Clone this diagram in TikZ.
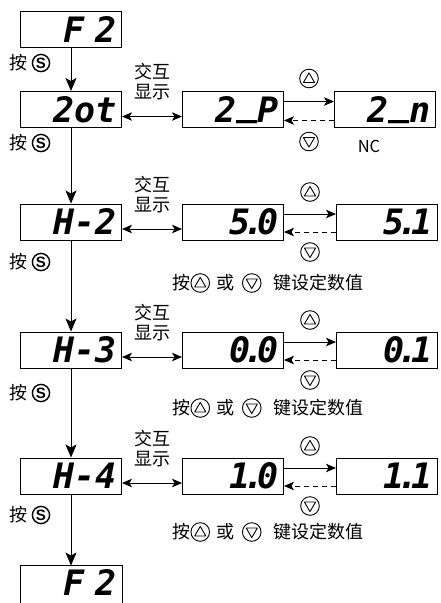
\documentclass[tikz,border=0pt]{standalone}
\usepackage{fontspec}
\usetikzlibrary{arrows.meta,calc,positioning}
\newfontfamily\cjk{Noto Sans CJK SC}
\newfontfamily\segfont{DejaVu Sans Mono Bold Oblique}
\newfontfamily\keyfont{Liberation Sans}

% round keys used inside the labels
\newcommand{\keyup}{\tikz[baseline=-6.5pt]{%
  \draw[line width=0.9pt] (0pt,0pt) circle (9.3pt);
  \draw[line width=0.9pt,line join=round] (0pt,5.6pt) -- (-5.6pt,-4pt) -- (5.6pt,-4pt) -- cycle;}}
\newcommand{\keydown}{\tikz[baseline=-6.5pt]{%
  \draw[line width=0.9pt] (0pt,0pt) circle (9.3pt);
  \draw[line width=0.9pt,line join=round] (0pt,-5.6pt) -- (-5.6pt,4pt) -- (5.6pt,4pt) -- cycle;}}
\newcommand{\keyS}{\tikz[baseline=-6.5pt]{%
  \draw[line width=1.4pt] (0pt,0pt) circle (8.6pt);
  \path (0pt,0pt) node[inner sep=0pt,font=\keyfont\bfseries\fontsize{15}{15}\selectfont] {S};}}
% decimal point between two digit cells
\newcommand{\dpt}{\kern-0.2em.\kern-0.2em}

\begin{document}
\begin{tikzpicture}[
    x=1pt, y=-1pt,
    >={Stealth[length=10pt,width=8.5pt,inset=2.5pt]},
    disp/.style = {draw, line width=1pt, minimum width=101pt, minimum height=36pt,
                   inner xsep=0pt, inner ysep=0pt, text width=92pt, align=right,
                   text height=25pt, text depth=0pt,
                   font=\segfont\fontsize{35}{35}\selectfont},
    flow/.style = {line width=0.8pt, -{Stealth[length=13pt,width=11pt,inset=3pt]}},
    xchg/.style = {line width=0.8pt, <->},
    inc/.style  = {line width=0.8pt, ->},
    dec/.style  = {line width=0.8pt, ->, dash pattern=on 5pt off 4pt},
    lbl/.style  = {font=\cjk\fontsize{18}{20}\selectfont, inner sep=0pt, align=center},
    key/.style  = {inner sep=0pt},
    nc/.style   = {font=\cjk\fontsize{16.5}{16.5}\selectfont, inner sep=0pt}
  ]
  \clip (0,0) rectangle (441,603);

  %–––– grid coordinates ––––
  \coordinate (origin) at (0,0);

  % left column
  \node[disp] (F2a) at ($(origin)+(71,29.5)$) {F 2};
  \node[disp] (Zot) at ($(origin)+(71,109.5)$) {2ot};
  % last display runs off the bottom edge
  \node[disp,draw=none,minimum height=33pt] (F2b) at ($(origin)+(71,582.5)$) {F 2};
  \draw[line width=1pt] (F2b.north west) ++(0,40) -- (F2b.north west)
    -- (F2b.north east) -- ++(0,40);

  % first row: 2_P / 2_n
  \node[disp] (P2) at ($(Zot)+(162,0)$) {2\raisebox{0.2em}{\_}P};
  \node[disp] (N2) at ($(Zot)+(314,0)$) {2\raisebox{0.2em}{\_}n};
  \node[nc]   (NC) at ($(N2)+(-16,37)$) {NC};

  \draw[xchg] ([yshift=-7pt]Zot.east) -- ([yshift=-7pt]P2.west);
  \node[lbl]  (sw1) at ($(Zot.east)!0.5!(P2.west)+(0,-28)$) {交互\\显示};
  \draw[inc]  ([yshift=8pt]P2.east) -- ([yshift=8pt]N2.west);
  \draw[dec]  ([yshift=-11pt]N2.west) -- ([yshift=-11pt]P2.east);
  \node[key]  (up1) at ($(P2.east)!0.5!(N2.west)+(0,-31)$) {\keyup};
  \node[key]  (dn1) at ($(P2.east)!0.5!(N2.west)+(0,32)$) {\keydown};

  %–––– parameter rows ––––
  \foreach \r/\y/\a/\b/\t in {2/222/5\dpt0/5\dpt1/283, 3/350/0\dpt0/0\dpt1/408, 4/476/1\dpt0/1\dpt1/532} {
    \node[disp] (H\r) at ($(origin)+(71,\y)$) {H-\r};
    \node[disp] (V\r) at ($(H\r)+(162,0)$) {\a};
    \node[disp] (W\r) at ($(H\r)+(316,0)$) {\b};

    \draw[xchg] ([yshift=-7pt]H\r.east) -- ([yshift=-7pt]V\r.west);
    \node[lbl]  (sw\r) at ($(H\r.east)!0.5!(V\r.west)+(0,-27)$) {交互\\显示};
    \draw[inc]  ([yshift=8pt]V\r.east) -- ([yshift=8pt]W\r.west);
    \draw[dec]  ([yshift=-10pt]W\r.west) -- ([yshift=-10pt]V\r.east);
    \node[key]  (up\r) at ($(V\r.east)!0.5!(W\r.west)+(0,-30)$) {\keyup};
    \node[key]  (dn\r) at ($(V\r.east)!0.5!(W\r.west)+(0,30)$) {\keydown};
    \node[lbl]  (set\r) at ($(origin)+(268,\t)$)
      {按\keyup\hspace{6pt}或\hspace{8pt}\keydown\hspace{12pt}键设定数值};
  }

  %–––– S key steps ––––
  \draw[flow] (F2a) -- (Zot);
  \draw[flow] (Zot) -- (H2);
  \foreach \p/\q in {H2/H3, H3/H4, H4/F2b}
    \draw[flow] (\p) -- (\q);

  \foreach \y [count=\i] in {63,143,262,393,515}
    \node[lbl] (pressS\i) at ($(origin)+(30,\y)$) {按\hspace{4pt}\keyS};

\end{tikzpicture}
\end{document}
